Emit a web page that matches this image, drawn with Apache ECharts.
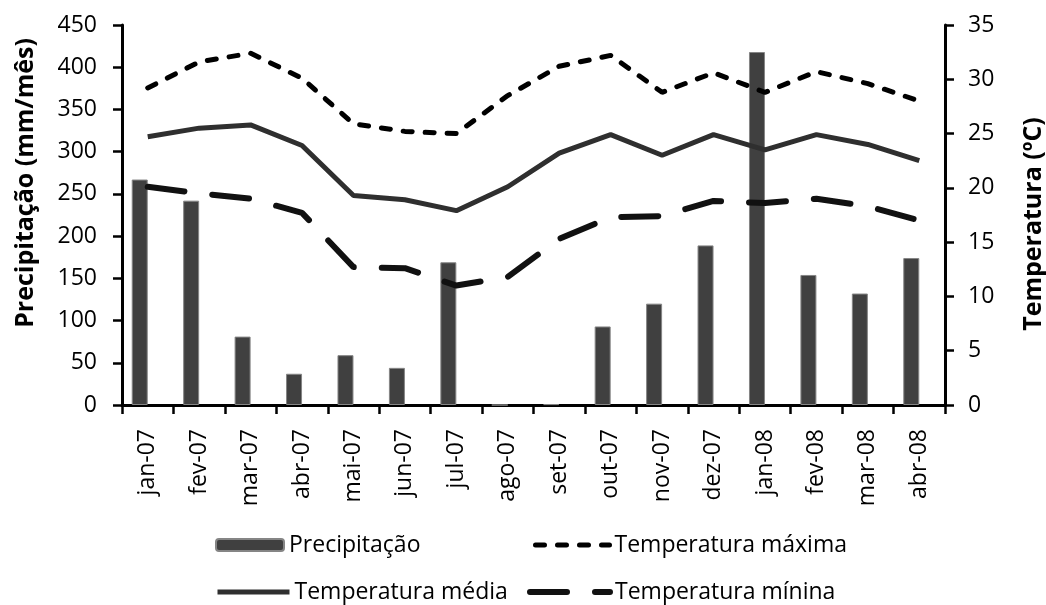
<!DOCTYPE html>
<html>
<head>
<meta charset="utf-8">
<script src="https://cdn.jsdelivr.net/npm/echarts@6/dist/echarts.min.js"></script>
<style>
html,body{margin:0;padding:0;background:#fff;}
#chart{width:1046px;height:605px;}
</style>
</head>
<body>
<div id="chart"></div>
<script>
var categories = ['jan-07','fev-07','mar-07','abr-07','mai-07','jun-07','jul-07','ago-07','set-07','out-07','nov-07','dez-07','jan-08','fev-08','mar-08','abr-08'];
var precipitacao = [267, 242, 81, 37, 59, 44, 169, 0, 1, 93, 120, 189, 418, 154, 132, 174];
var tempMax = [29.2, 31.6, 32.4, 30.1, 25.9, 25.2, 25.0, 28.5, 31.2, 32.2, 28.8, 30.6, 28.8, 30.7, 29.6, 28.0];
var tempMed = [24.7, 25.5, 25.8, 23.9, 19.3, 18.9, 17.9, 20.1, 23.2, 24.9, 23.0, 24.9, 23.5, 24.9, 24.0, 22.5];
var tempMin = [20.1, 19.5, 19.0, 17.7, 12.7, 12.6, 11.0, 11.8, 15.3, 17.3, 17.4, 18.8, 18.6, 19.0, 18.3, 17.0];
var seriesNames = ['Precipitação','Temperatura máxima','Temperatura média','Temperatura mínina'];
var leftTitle = 'Precipitação (mm/mês)';
var rightTitle = 'Temperatura (ºC)';

var FONT = 'Open Sans';
var chart = echarts.init(document.getElementById('chart'), null, {renderer:'canvas'});
var legendText = {fontFamily: FONT, fontSize: 23, color: '#000', lineHeight: 24};
function lg(name, left, top, w, lineW) {
  var o = {data:[name], left:left, top:top, padding:0, itemWidth:w, itemHeight:12,
          textStyle: legendText, selectedMode:false};
  if (lineW) {
    o.itemStyle = {opacity:0};
    o.lineStyle = {width:lineW};
  }
  return o;
}
var axisLineStyle = {color:'#000', width:3};
var tickStyle = {show:true, length:9, lineStyle:{color:'#000', width:2.5}};
chart.setOption({
  animation:false,
  backgroundColor:'#fff',
  grid:{left:122, right:101, top:25, bottom:200, containLabel:false, outerBoundsMode:'none'},
  legend:[
    lg(seriesNames[0], 215, 533, 68, 0),
    lg(seriesNames[1], 533, 533, 74, 5),
    lg(seriesNames[2], 215, 580, 72, 5),
    lg(seriesNames[3], 527, 580, 80, 6)
  ],
  xAxis:{
    type:'category', data:categories, boundaryGap:true,
    axisLine:{lineStyle:axisLineStyle},
    axisTick:tickStyle,
    axisLabel:{rotate:90, margin:24, fontFamily:FONT, fontSize:23, color:'#000', interval:0}
  },
  yAxis:[
    {type:'value', min:0, max:450, interval:50, position:'left',
     name:leftTitle, nameLocation:'middle', nameRotate:90, nameGap:84,
     nameTextStyle:{fontFamily:FONT, fontSize:25, fontWeight:'bold', color:'#000', padding:[0,0,0,64]},
     axisLine:{show:true, lineStyle:axisLineStyle},
     axisTick:tickStyle,
     axisLabel:{margin:25, fontFamily:FONT, fontSize:23, color:'#000'},
     splitLine:{show:false}},
    {type:'value', min:0, max:35, interval:5, position:'right',
     name:rightTitle, nameLocation:'middle', nameRotate:90, nameGap:76,
     nameTextStyle:{fontFamily:FONT, fontSize:25, fontWeight:'bold', color:'#000', padding:[0,18,0,0]},
     axisLine:{show:true, lineStyle:axisLineStyle},
     axisTick:tickStyle,
     axisLabel:{margin:23, fontFamily:FONT, fontSize:23, color:'#000'},
     splitLine:{show:false}}
  ],
  series:[
    {name:seriesNames[0], type:'bar', yAxisIndex:0, data:precipitacao, barWidth:16, barGap:'0%',
     itemStyle:{color:'#404040', borderColor:'#858585', borderWidth:1}, z:1},
    {name:'_spacer', type:'bar', yAxisIndex:0, data:categories.map(function(){return '-';}), barWidth:16,
     itemStyle:{color:'transparent'}, z:1},
    {name:seriesNames[1], type:'line', yAxisIndex:1, data:tempMax, symbol:'none',
     itemStyle:{color:'#000'},
     lineStyle:{color:'#000', width:5, type:[9,13], cap:'round'}, z:3},
    {name:seriesNames[2], type:'line', yAxisIndex:1, data:tempMed, symbol:'none',
     itemStyle:{color:'#2f2f2f'},
     lineStyle:{color:'#2f2f2f', width:5}, z:3},
    {name:seriesNames[3], type:'line', yAxisIndex:1, data:tempMin, symbol:'none',
     itemStyle:{color:'#111'},
     lineStyle:{color:'#111', width:6, type:[37,28], cap:'round'}, z:3}
  ]
});
</script>
</body>
</html>
